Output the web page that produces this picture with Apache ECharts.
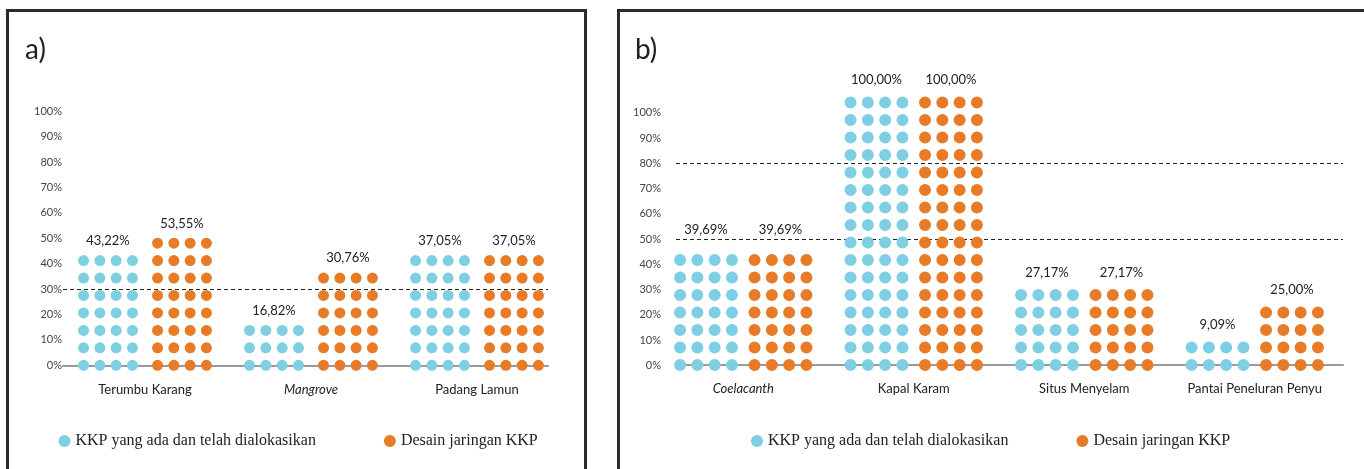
<!DOCTYPE html>
<html>
<head>
<meta charset="utf-8">
<script src="https://cdn.jsdelivr.net/npm/echarts@6/dist/echarts.min.js"></script>
<style>
html,body{margin:0;padding:0;background:#fff;}
#chart{position:absolute;left:0;top:0;width:1364px;height:469px;}
.panel{position:absolute;border:3px solid #2b2b2b;box-sizing:border-box;pointer-events:none;}
#pa{left:6px;top:9px;width:581px;height:500px;}
#pb{left:617px;top:9px;width:800px;height:500px;}
</style>
</head>
<body>
<div id="chart"></div>
<div class="panel" id="pa"></div>
<div class="panel" id="pb"></div>
<script>
// ---------- data ----------
const seriesNames = ['KKP yang ada dan telah dialokasikan', 'Desain jaringan KKP'];
const pctTicks = [0, 10, 20, 30, 40, 50, 60, 70, 80, 90, 100];

const categoriesA = ['Terumbu Karang', 'Mangrove', 'Padang Lamun'];
const existingA = [43.22, 16.82, 37.05];
const designA = [53.55, 30.76, 37.05];
const existingDotsA = [7, 3, 7];   // rows of dots shown in the picture
const designDotsA = [8, 6, 7];
const targetsA = [30];
const italicA = ['Mangrove'];

const categoriesB = ['Coelacanth', 'Kapal Karam', 'Situs Menyelam', 'Pantai Peneluran Penyu'];
const existingB = [39.69, 100.00, 27.17, 9.09];
const designB = [39.69, 100.00, 27.17, 25.00];
const existingDotsB = [7, 16, 5, 2];
const designDotsB = [7, 16, 5, 4];
const targetsB = [80, 50];
const italicB = ['Coelacanth'];

const maxDotRows = 16;

// ---------- helpers ----------
const BLUE = '#7ecfe3', ORANGE = '#e87b28';
const pct = v => v.toFixed(2).replace('.', ',') + '%';
function rowSymbol(d, p) {
  const r = d / 2; let s = '';
  for (let i = 0; i < 4; i++) {
    const cx = r + i * p;
    s += 'M' + (cx - r) + ',' + r + 'a' + r + ',' + r + ' 0 1,0 ' + d + ',0a' + r + ',' + r + ' 0 1,0 ' + (-d) + ',0Z';
  }
  return 'path://' + s;
}

const option = {
  animation: false,
  title: [], grid: [], xAxis: [], yAxis: [], series: [], legend: []
};

function addPanel(cfg) {
  const gi = option.grid.length;
  const gp = gi, gd = gi + 1;
  option.title.push({
    text: cfg.title, left: cfg.titleLeft, top: 31,
    textStyle: { fontFamily: 'Lato', fontSize: 28, fontWeight: 'normal', color: '#222' }
  });
  // percent grid
  option.grid.push({ left: cfg.pLeft, top: cfg.pTop, width: cfg.pWidth, height: cfg.pHeight });
  // dots grid
  option.grid.push({ left: cfg.dLeft, top: cfg.dBottom - maxDotRows * cfg.pitch, width: cfg.dWidth, height: maxDotRows * cfg.pitch });
  option.xAxis.push({
    type: 'category', gridIndex: gp, data: cfg.categories, offset: cfg.lineOffset,
    axisLine: { show: true, lineStyle: { color: '#9a9a9a', width: 2 } },
    axisTick: { show: false }, axisLabel: { show: false }
  });
  option.xAxis.push({
    type: 'category', gridIndex: gd, data: cfg.categories,
    axisLine: { show: false }, axisTick: { show: false },
    axisLabel: {
      interval: 0, hideOverlap: false,
      margin: 9, fontFamily: 'Lato', fontSize: 13, color: '#222',
      formatter: v => cfg.italic.indexOf(v) >= 0 ? '{i|' + v + '}' : v,
      rich: { i: { fontStyle: 'italic', fontFamily: 'Lato', fontSize: 13, color: '#222' } }
    }
  });
  option.yAxis.push({
    type: 'value', gridIndex: gp, min: pctTicks[0], max: pctTicks[pctTicks.length - 1], interval: 10,
    axisLine: { show: false }, axisTick: { show: false }, splitLine: { show: false },
    axisLabel: { formatter: '{value}%', margin: cfg.labelMargin, fontFamily: 'Lato', fontSize: 11, color: '#444' }
  });
  option.yAxis.push({ type: 'value', gridIndex: gd, min: 0, max: maxDotRows, show: false });

  option.series.push({
    type: 'line', xAxisIndex: gp, yAxisIndex: gp, data: [], silent: true, z: 1,
    markLine: {
      silent: true, symbol: 'none', z: 1, animation: false,
      label: { show: false },
      lineStyle: { type: [4, 3], color: '#222', width: 1.2 },
      data: cfg.targets.map(v => ({ yAxis: v }))
    }
  });
  const mk = (name, color, dots, vals) => ({
    name: name, type: 'pictorialBar', xAxisIndex: gd, yAxisIndex: gd, z: 3,
    barWidth: cfg.barWidth, barGap: cfg.barGap,
    symbol: rowSymbol(cfg.dot, cfg.hpitch),
    symbolSize: [3 * cfg.hpitch + cfg.dot, cfg.dot],
    symbolRepeat: true, symbolBoundingData: maxDotRows,
    symbolMargin: cfg.margin + '!', symbolPosition: 'start',
    itemStyle: { color: color },
    label: {
      show: true, position: 'top', distance: cfg.labelDist,
      fontFamily: 'Lato', fontSize: 13, color: '#222',
      formatter: p => pct(vals[p.dataIndex])
    },
    data: dots.map((d, i) => (cfg.raiseLabel.indexOf(i) >= 0
      ? { value: d, label: { distance: cfg.raisedDist } }
      : d))
  });
  option.series.push(mk(seriesNames[0], BLUE, cfg.eDots, cfg.eVals));
  option.series.push(mk(seriesNames[1], ORANGE, cfg.dDots, cfg.dVals));

  option.legend.push({
    left: cfg.legendLeft, top: 428, orient: 'horizontal',
    itemWidth: 12, itemHeight: 12, itemGap: 68, icon: 'circle',
    textStyle: { fontFamily: 'Liberation Serif', fontSize: 16, color: '#222' },
    data: seriesNames.slice()
  });
}

addPanel({
  title: 'a)', titleLeft: 20,
  categories: categoriesA, italic: italicA, targets: targetsA,
  eVals: existingA, dVals: designA, eDots: existingDotsA, dDots: designDotsA,
  pLeft: 63, pTop: 111.3, pWidth: 485, pHeight: 254, lineOffset: 10.7, labelMargin: 1,
  dLeft: 62, dWidth: 498, dBottom: 374, pitch: 17.45,
  dot: 11, hpitch: 16.3, margin: 3.3, barWidth: 60, barGap: '23.3%', labelDist: 4.5,
  raiseLabel: [], raisedDist: 4.5,
  legendLeft: 53.5
});
addPanel({
  title: 'b)', titleLeft: 630,
  categories: categoriesB, italic: italicB, targets: targetsB,
  eVals: existingB, dVals: designB, eDots: existingDotsB, dDots: designDotsB,
  pLeft: 676, pTop: 112.9, pWidth: 667, pHeight: 252.3, lineOffset: 10.8, labelMargin: 15,
  dLeft: 658, dWidth: 682, dBottom: 373.75, pitch: 17.5,
  dot: 12, hpitch: 17.3, margin: 2.85, barWidth: 64, barGap: '16.4%', labelDist: 7,
  raiseLabel: [0], raisedDist: 14.5,
  legendLeft: 746
});

const chart = echarts.init(document.getElementById('chart'), null, { renderer: 'canvas' });
chart.setOption(option);
</script>
</body>
</html>
